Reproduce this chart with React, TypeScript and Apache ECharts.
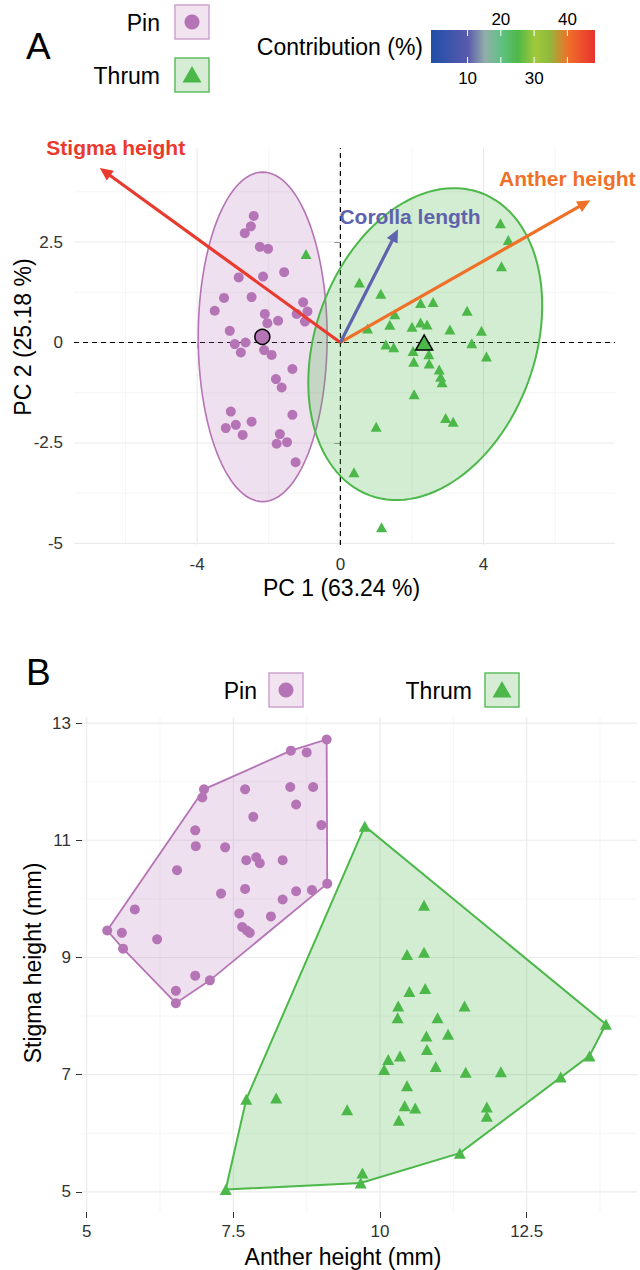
import React, { useEffect, useRef } from "react";
import * as echarts from "echarts";

const FONT = '"Liberation Sans", Arial, Helvetica, sans-serif';

// ---------------- Panel A : PCA biplot ----------------
const pinPC1 = [-2.42, -2.5, -2.67, -2.25, -2.02, -1.57, -2.84, -2.16, -3.25, -2.48, -3.51, -1.04, -0.92, -1.22, -0.99, -2.11, -1.74, -2.04, -3.09, -2.95, -2.65, -2.78, -2.13, -1.92, -1.34, -1.8, -1.64, -3.06, -2.92, -3.2, -2.48, -2.73, -1.34, -1.69, -1.49, -1.78, -1.25];
const pinPC2 = [3.15, 2.89, 2.72, 2.38, 2.33, 1.75, 1.62, 1.64, 1.11, 1.13, 0.79, 1.0, 0.77, 0.71, 0.52, 0.71, 0.54, 0.48, 0.29, -0.04, 0.0, -0.25, -0.19, -0.31, -0.66, -0.91, -1.12, -1.72, -2.05, -2.13, -1.97, -2.3, -1.8, -2.28, -2.48, -2.52, -2.98];
const thrumPC1 = [-0.96, 4.47, 4.69, 4.5, 0.53, 1.13, 2.24, 2.59, 3.54, 1.52, 1.38, 0.76, 2.24, 2.42, 2.0, 3.06, 3.94, 1.27, 1.49, 2.03, 2.47, 3.67, 4.08, 2.05, 2.48, 2.76, 2.8, 2.84, 2.06, 2.94, 3.15, 1.0, 0.38, 1.15];
const thrumPC2 = [2.2, 2.97, 2.55, 1.9, 1.49, 1.21, 0.98, 1.01, 0.79, 0.7, 0.44, 0.35, 0.5, 0.45, 0.39, 0.32, 0.29, -0.05, -0.12, -0.21, -0.29, -0.02, -0.35, -0.48, -0.52, -0.67, -0.85, -0.99, -1.29, -1.88, -1.97, -2.1, -3.23, -4.6];
const meanPC1 = [-2.18, 2.34]; // Pin, Thrum
const meanPC2 = [0.14, 0.0];

const loadingNames = ["Stigma height", "Anther height", "Corolla length"];
const loadingPC1 = [-6.72, 6.98, 1.61];
const loadingPC2 = [4.34, 3.54, 2.82];
const loadingContrib = [47.1, 40.2, 10.6];

// concentration ellipses: centre and two conjugate semi-axis vectors (PC units)
const ellipseCX = [-2.17, 2.37];
const ellipseCY = [0.14, -0.04];
const ellipseU = [[0, 4.1], [1.547, 3.766]];
const ellipseV = [[1.8, 0], [2.877, -0.938]];

const pcXTicks = [-4, 0, 4];
const pcXMinor = [-6, -2, 2, 6];
const pcYTicks = [-5, -2.5, 0, 2.5];
const pcYMinor = [-3.75, -1.25, 1.25, 3.75];

const contribTicks = [10, 20, 30, 40];
const contribBarMin = -1.0;
const contribBarMax = 48.3;

// ---------------- Panel B : anther vs stigma height ----------------
const pinAnther = [9.09, 8.48, 8.75, 7.0, 6.97, 7.7, 8.47, 8.86, 8.57, 7.84, 9.0, 6.85, 6.86, 7.36, 6.54, 7.72, 7.89, 7.95, 8.34, 9.1, 8.84, 8.57, 8.34, 7.7, 7.29, 7.6, 8.14, 5.82, 5.35, 5.6, 5.62, 6.2, 7.65, 7.73, 7.78, 6.85, 7.1, 6.52, 6.52];
const pinStigma = [12.72, 12.53, 12.5, 11.87, 11.73, 11.87, 11.91, 11.91, 11.61, 11.4, 11.26, 11.17, 10.9, 10.88, 10.49, 10.66, 10.71, 10.61, 10.66, 10.26, 10.15, 10.13, 9.99, 10.17, 10.09, 9.75, 9.7, 9.82, 9.46, 9.42, 9.15, 9.31, 9.52, 9.46, 9.42, 8.69, 8.61, 8.43, 8.22];
const thrumAnther = [10.75, 10.46, 10.75, 10.5, 10.77, 10.31, 11.44, 10.3, 10.98, 10.79, 11.16, 10.8, 10.14, 10.34, 10.07, 10.95, 11.46, 12.06, 10.46, 10.42, 10.6, 10.32, 9.44, 8.23, 7.72, 11.82, 11.82, 13.85, 13.57, 13.08, 11.36, 9.7, 9.67, 7.37, 9.74];
const thrumStigma = [9.89, 9.05, 9.09, 8.42, 8.47, 8.17, 8.17, 7.97, 7.97, 7.66, 7.69, 7.43, 7.26, 7.32, 7.09, 7.14, 7.04, 7.05, 6.81, 6.47, 6.43, 6.22, 6.4, 6.6, 6.58, 6.45, 6.29, 7.86, 7.32, 6.96, 5.66, 5.32, 5.15, 5.04, 11.24];

const antherTicks = [5, 7.5, 10, 12.5];
const antherMinor = [6.25, 8.75, 11.25, 13.75];
const stigmaTicks = [5, 7, 9, 11, 13];
const stigmaMinor = [6, 8, 10, 12];

// ---------------- styles ----------------
const PIN = "#b574b5";
const THRUM = "#4cb84a";
const PIN_FILL = "rgba(181,116,181,0.22)";
const THRUM_FILL = "rgba(76,184,74,0.25)";
const GRID_MAJOR = "#ebebeb";
const GRID_MINOR = "#f3f3f3";
const TICK_TEXT = "#333333";

const A_RANGE = { xmin: -7.44, xmax: 7.67, ymin: -5.04, ymax: 4.84 };
const B_RANGE = { xmin: 4.92, xmax: 14.38, ymin: 4.656, ymax: 13.104 };

const contribStops: [number, string][] = [
  [0, "#1f4fa8"],
  [0.226, "#5a5aad"],
  [0.33, "#92aeaa"],
  [0.427, "#5fc184"],
  [0.53, "#4fb848"],
  [0.634, "#a2c93a"],
  [0.72, "#8fba3c"],
  [0.835, "#f07028"],
  [1, "#e8312f"],
];

const BAR = { x: 431, y: 30, w: 164, h: 33 };
const labelOffsets = [[16, -21], [-23, -22], [12, -13]];

function hex(c: string) {
  return [1, 3, 5].map((i) => parseInt(c.slice(i, i + 2), 16));
}
function contribColor(v: number) {
  const f = (v - contribBarMin) / (contribBarMax - contribBarMin);
  for (let i = 1; i < contribStops.length; i++) {
    const [o1, c1] = contribStops[i];
    const [o0, c0] = contribStops[i - 1];
    if (f <= o1) {
      const t = (f - o0) / (o1 - o0);
      const a = hex(c0), b = hex(c1);
      const m = a.map((x, k) => Math.round(x + (b[k] - x) * t));
      return `rgb(${m[0]},${m[1]},${m[2]})`;
    }
  }
  return contribStops[contribStops.length - 1][1];
}
function barX(v: number) {
  return BAR.x + ((v - contribBarMin) / (contribBarMax - contribBarMin)) * BAR.w;
}

function convexHull(pts: number[][]) {
  const p = pts.slice().sort((a, b) => a[0] - b[0] || a[1] - b[1]);
  const cross = (o: number[], a: number[], b: number[]) =>
    (a[0] - o[0]) * (b[1] - o[1]) - (a[1] - o[1]) * (b[0] - o[0]);
  const lower: number[][] = [];
  for (const q of p) {
    while (lower.length >= 2 && cross(lower[lower.length - 2], lower[lower.length - 1], q) <= 0) lower.pop();
    lower.push(q);
  }
  const upper: number[][] = [];
  for (let i = p.length - 1; i >= 0; i--) {
    const q = p[i];
    while (upper.length >= 2 && cross(upper[upper.length - 2], upper[upper.length - 1], q) <= 0) upper.pop();
    upper.push(q);
  }
  upper.pop();
  lower.pop();
  return lower.concat(upper);
}

function gridLines(g: number, vals: number[], vertical: boolean, R: any, color: string, width: number, z: number, dash?: number[]) {
  return {
    type: "custom",
    xAxisIndex: g,
    yAxisIndex: g,
    z,
    silent: true,
    data: vals.map((v) => (vertical ? [v, R.ymin] : [R.xmin, v])),
    renderItem: (params: any, api: any) => {
      const v = vertical ? api.value(0) : api.value(1);
      const a = vertical ? api.coord([v, R.ymin]) : api.coord([R.xmin, v]);
      const b = vertical ? api.coord([v, R.ymax]) : api.coord([R.xmax, v]);
      return {
        type: "line",
        shape: { x1: a[0], y1: a[1], x2: b[0], y2: b[1] },
        style: { stroke: color, lineWidth: width, lineDash: dash || null },
      };
    },
  };
}

function polygonSeries(g: number, pts: number[][], fill: string, stroke: string, lw: number, z: number) {
  return {
    type: "custom",
    xAxisIndex: g,
    yAxisIndex: g,
    z,
    silent: true,
    data: [pts[0]],
    renderItem: (params: any, api: any) => ({
      type: "polygon",
      shape: { points: pts.map((p) => api.coord(p)) },
      style: { fill, stroke, lineWidth: lw },
    }),
  };
}

function ellipsePoints(i: number) {
  const out: number[][] = [];
  const n = 120;
  for (let k = 0; k < n; k++) {
    const t = (k / n) * Math.PI * 2;
    out.push([
      ellipseCX[i] + ellipseU[i][0] * Math.cos(t) + ellipseV[i][0] * Math.sin(t),
      ellipseCY[i] + ellipseU[i][1] * Math.cos(t) + ellipseV[i][1] * Math.sin(t),
    ]);
  }
  return out;
}

function axisPair(g: number, R: any, xt: number[], yt: number[]) {
  const lab = { fontSize: 17, color: TICK_TEXT, fontFamily: FONT };
  const tick = { show: true, length: 6, lineStyle: { color: "#333", width: 1 } };
  return {
    x: {
      type: "value", gridIndex: g, min: R.xmin, max: R.xmax,
      axisLine: { show: false }, splitLine: { show: false },
      axisTick: { ...tick, customValues: xt },
      axisLabel: { ...lab, margin: 11, customValues: xt },
    },
    y: {
      type: "value", gridIndex: g, min: R.ymin, max: R.ymax,
      axisLine: { show: false }, splitLine: { show: false },
      axisTick: { ...tick, customValues: yt },
      axisLabel: { ...lab, margin: 11, customValues: yt },
    },
  };
}

function txt(text: string, x: number, y: number, size: number, align = "center", extra: any = {}) {
  return {
    type: "text",
    x,
    y,
    ...extra,
    style: {
      text, fill: "#000", fontSize: size, fontFamily: FONT,
      align, verticalAlign: "middle", textAlign: align, textVerticalAlign: "middle",
      ...(extra.style || {}),
    },
  };
}

function legendKeys(pinTextX: number, pinBoxX: number, pinY: number, thrumTextX: number, thrumBoxX: number, thrumY: number) {
  const s = 34;
  const els: any[] = [];
  els.push(txt("Pin", pinTextX, pinY + s / 2 + 1, 23, "right"));
  els.push({ type: "rect", shape: { x: pinBoxX, y: pinY, width: s, height: s }, style: { fill: "#f1e3f0", stroke: "#d0a2d0", lineWidth: 1.5 } });
  els.push({ type: "circle", shape: { cx: pinBoxX + s / 2, cy: pinY + s / 2, r: 7.5 }, style: { fill: PIN } });
  els.push(txt("Thrum", thrumTextX, thrumY + s / 2 + 1, 23, "right"));
  els.push({ type: "rect", shape: { x: thrumBoxX, y: thrumY, width: s, height: s }, style: { fill: "#d6ecd5", stroke: "#5fbd5d", lineWidth: 1.5 } });
  const cx = thrumBoxX + s / 2, cy = thrumY + s / 2;
  els.push({ type: "polygon", shape: { points: [[cx, cy - 9], [cx + 9.5, cy + 7.5], [cx - 9.5, cy + 7.5]] }, style: { fill: THRUM } });
  return els;
}

export default function App() {
  const ref = useRef<HTMLDivElement>(null);
  useEffect(() => {
    document.body.style.margin = "0";
    if (!ref.current) return;
    const chart = echarts.init(ref.current, undefined, { renderer: "svg" });

    const axA = axisPair(0, A_RANGE, pcXTicks, pcYTicks);
    const axB = axisPair(1, B_RANGE, antherTicks, stigmaTicks);

    const pinA = pinPC1.map((x, i) => [x, pinPC2[i]]);
    const thrumA = thrumPC1.map((x, i) => [x, thrumPC2[i]]);
    const pinB = pinAnther.map((x, i) => [x, pinStigma[i]]);
    const thrumB = thrumAnther.map((x, i) => [x, thrumStigma[i]]);

    const arrows = {
      type: "custom",
      xAxisIndex: 0,
      yAxisIndex: 0,
      z: 6,
      silent: true,
      data: loadingPC1.map((x, i) => [x, loadingPC2[i], loadingContrib[i]]),
      renderItem: (params: any, api: any) => {
        const i = params.dataIndex;
        const o = api.coord([0, 0]);
        const t = api.coord([api.value(0), api.value(1)]);
        const dx = t[0] - o[0], dy = t[1] - o[1];
        const L = Math.hypot(dx, dy);
        const ux = dx / L, uy = dy / L;
        const hl = 13, hw = 6;
        const bx = t[0] - ux * hl, by = t[1] - uy * hl;
        const col = contribColor(api.value(2));
        return {
          type: "group",
          children: [
            { type: "line", shape: { x1: o[0], y1: o[1], x2: bx + ux * 2, y2: by + uy * 2 }, style: { stroke: col, lineWidth: 3.2 } },
            { type: "polygon", shape: { points: [[t[0], t[1]], [bx - uy * hw, by + ux * hw], [bx + uy * hw, by - ux * hw]] }, style: { fill: col } },
            {
              type: "text",
              x: t[0] + labelOffsets[i][0],
              y: t[1] + labelOffsets[i][1],
              style: {
                text: loadingNames[i], fill: col, fontSize: 21, fontWeight: "bold", fontFamily: FONT,
                align: "center", verticalAlign: "middle",
              },
            },
          ],
        };
      },
    };

    const stops = contribStops.map(([o, c]) => ({ offset: o, color: c }));
    const graphic: any[] = [
      txt("A", 26, 46, 37, "left"),
      ...legendKeys(160, 175, 5, 160, 175, 58),
      txt("Contribution (%)", 423, 47, 23, "right"),
      { type: "rect", shape: { x: BAR.x, y: BAR.y, width: BAR.w, height: BAR.h }, style: { fill: new echarts.graphic.LinearGradient(0, 0, 1, 0, stops) } },
      ...contribTicks.flatMap((v) => [
        { type: "line", shape: { x1: barX(v), y1: BAR.y, x2: barX(v), y2: BAR.y + 6 }, style: { stroke: "#fff", lineWidth: 1 } },
        { type: "line", shape: { x1: barX(v), y1: BAR.y + BAR.h - 6, x2: barX(v), y2: BAR.y + BAR.h }, style: { stroke: "#fff", lineWidth: 1 } },
      ]),
      ...contribTicks.map((v, i) => txt(String(v), barX(v), i % 2 === 0 ? 78 : 19, 17)),
      txt("PC 1 (63.24 %)", 341.5, 588, 23),
      txt("PC 2 (25.18 %)", 23, 337, 23, "center", { rotation: Math.PI / 2 }),
      txt("B", 26, 672, 37, "left"),
      ...legendKeys(257, 269, 673, 472, 485, 673),
      txt("Anther height (mm)", 343, 1257, 23),
      txt("Stigma height (mm)", 33, 963, 23, "center", { rotation: Math.PI / 2 }),
    ];

    chart.setOption({
      animation: false,
      grid: [
        { left: 74, top: 148, width: 541, height: 397 },
        { left: 82, top: 717, width: 555, height: 495 },
      ],
      xAxis: [axA.x, axB.x],
      yAxis: [axA.y, axB.y],
      graphic,
      series: [
        // panel A grid
        gridLines(0, pcXMinor, true, A_RANGE, GRID_MINOR, 0.8, 1),
        gridLines(0, pcYMinor, false, A_RANGE, GRID_MINOR, 0.8, 1),
        gridLines(0, pcXTicks, true, A_RANGE, GRID_MAJOR, 1.1, 1),
        gridLines(0, pcYTicks, false, A_RANGE, GRID_MAJOR, 1.1, 1),
        gridLines(0, [0], true, A_RANGE, "#000", 1.2, 2, [5, 4]),
        gridLines(0, [0], false, A_RANGE, "#000", 1.2, 2, [5, 4]),
        polygonSeries(0, ellipsePoints(0), PIN_FILL, PIN, 1.6, 3),
        polygonSeries(0, ellipsePoints(1), THRUM_FILL, THRUM, 2, 3),
        { type: "scatter", name: "Pin", xAxisIndex: 0, yAxisIndex: 0, z: 4, data: pinA, symbol: "circle", symbolSize: 10, itemStyle: { color: PIN, opacity: 1 } },
        { type: "scatter", name: "Thrum", xAxisIndex: 0, yAxisIndex: 0, z: 4, data: thrumA, symbol: "triangle", symbolSize: [11, 10], itemStyle: { color: THRUM, opacity: 1 } },
        arrows,
        { type: "scatter", xAxisIndex: 0, yAxisIndex: 0, z: 7, data: [[meanPC1[0], meanPC2[0]]], symbol: "circle", symbolSize: 15, itemStyle: { color: PIN, borderColor: "#000", borderWidth: 1.5, opacity: 1 } },
        { type: "scatter", xAxisIndex: 0, yAxisIndex: 0, z: 7, data: [[meanPC1[1], meanPC2[1]]], symbol: "triangle", symbolSize: [17, 15], itemStyle: { color: THRUM, borderColor: "#000", borderWidth: 1.5, opacity: 1 } },
        // panel B grid
        gridLines(1, antherMinor, true, B_RANGE, GRID_MINOR, 0.8, 1),
        gridLines(1, stigmaMinor, false, B_RANGE, GRID_MINOR, 0.8, 1),
        gridLines(1, antherTicks, true, B_RANGE, GRID_MAJOR, 1.1, 1),
        gridLines(1, stigmaTicks, false, B_RANGE, GRID_MAJOR, 1.1, 1),
        polygonSeries(1, convexHull(pinB), PIN_FILL, PIN, 1.8, 3),
        polygonSeries(1, convexHull(thrumB), THRUM_FILL, THRUM, 2, 3),
        { type: "scatter", xAxisIndex: 1, yAxisIndex: 1, z: 4, data: pinB, symbol: "circle", symbolSize: 10, itemStyle: { color: PIN, opacity: 1 } },
        { type: "scatter", xAxisIndex: 1, yAxisIndex: 1, z: 4, data: thrumB, symbol: "triangle", symbolSize: [12, 11], itemStyle: { color: THRUM, opacity: 1 } },
      ],
    });
    return () => chart.dispose();
  }, []);
  return <div ref={ref} style={{ width: 640, height: 1270 }} />;
}
